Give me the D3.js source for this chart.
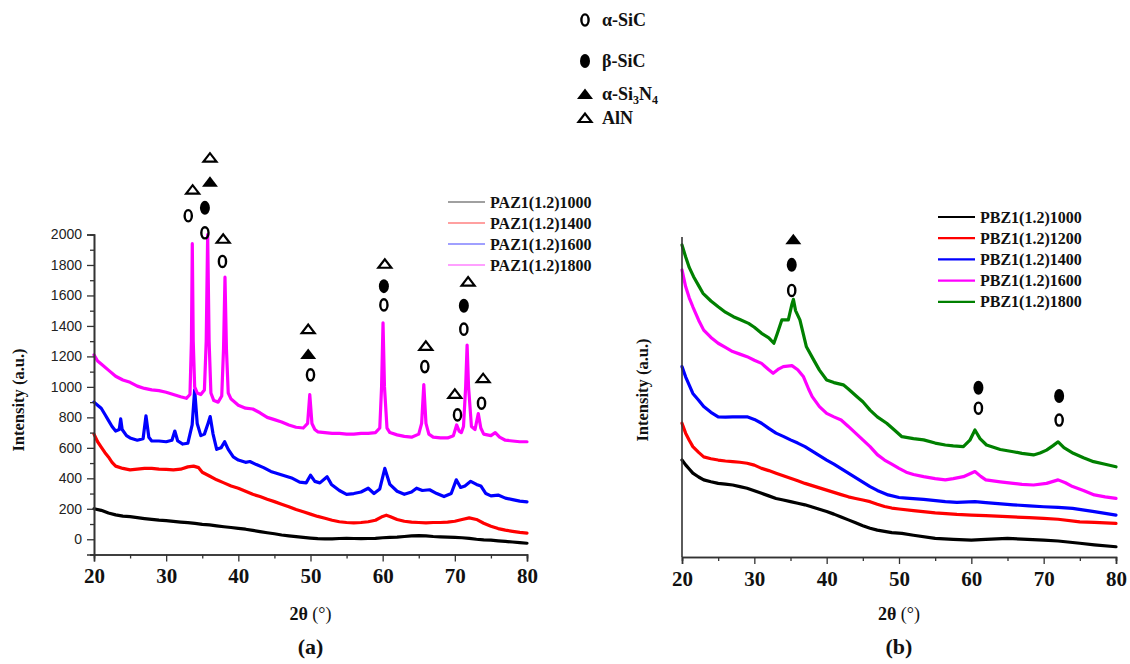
<!DOCTYPE html>
<html>
<head>
<meta charset="utf-8">
<script src="https://cdn.jsdelivr.net/npm/d3@7"></script>
<style>
  html, body { margin: 0; padding: 0; background: #fff; }
  svg { display: block; }
</style>
</head>
<body>
<svg id="chart" width="1130" height="664"></svg>
<script>
// ---------------- DATA ----------------
const thetaTicks = [20, 30, 40, 50, 60, 70, 80];
const thetaMinorTicks = [25, 35, 45, 55, 65, 75];
const intensityTicksA = [0, 200, 400, 600, 800, 1000, 1200, 1400, 1600, 1800, 2000];
const intensityMinorTicksA = [-100, 100, 300, 500, 700, 900, 1100, 1300, 1500, 1700, 1900];

const seriesNamesA = ["PAZ1(1.2)1000", "PAZ1(1.2)1400", "PAZ1(1.2)1600", "PAZ1(1.2)1800"];
const seriesNamesB = ["PBZ1(1.2)1000", "PBZ1(1.2)1200", "PBZ1(1.2)1400", "PBZ1(1.2)1600", "PBZ1(1.2)1800"];

const phaseNames = ["α-SiC", "β-SiC", "α-Si3N4", "AlN"];

// panel (a): [2θ, intensity]
const paz1000 = [[20,200],[21,190],[22,172],[23,160],[24,152],[25,148],[26,142],[27,136],[28,130],[29,125],[30,122],[31,118],[32,113],[33,109],[34,104],[35,98],[36,94],[37,88],[38,82],[39,77],[40,72],[41,66],[42,58],[43,50],[44,43],[45,36],[46,28],[47,22],[48,17],[49,13],[50,8],[51,4],[52,2],[53,3],[54,5],[55,6],[56,5],[57,4],[58,5],[59,6],[60,10],[61,12],[62,14],[63,18],[64,22],[65,24],[66,22],[67,18],[68,16],[69,14],[70,12],[71,10],[72,6],[73,0],[74,-4],[75,-6],[76,-10],[77,-14],[78,-18],[79,-22],[80,-26]];
const paz1400 = [[20,690],[20.5,640],[21,605],[21.5,570],[22,540],[22.5,505],[23,480],[24,465],[25,455],[26,460],[27,465],[28,465],[29,460],[30,458],[31,455],[32,460],[33,475],[33.8,480],[34.5,470],[35,440],[36,415],[37,390],[38,370],[39,350],[40,335],[41,315],[42,295],[43,280],[44,262],[45,247],[46,230],[47,214],[48,195],[49,180],[50,165],[51,150],[52,138],[53,125],[54,115],[55,110],[56,108],[57,110],[58,115],[59,125],[60,150],[60.5,158],[61,150],[62,130],[63,118],[64,112],[65,110],[66,108],[67,110],[68,110],[69,112],[70,118],[71,130],[72,140],[73,130],[74,105],[75,85],[76,70],[77,60],[78,52],[79,45],[80,40]];
const paz1600 = [[20,900],[20.5,880],[21,860],[21.5,820],[22,780],[22.5,740],[23,710],[23.5,720],[23.7,790],[23.9,720],[24.5,680],[25,665],[26,650],[26.8,660],[27.2,810],[27.6,670],[28,645],[29,645],[30,640],[30.8,650],[31.2,710],[31.6,645],[32.3,625],[33,630],[33.6,750],[33.95,980],[34.3,760],[34.8,680],[35.3,690],[35.8,760],[36.1,805],[36.5,690],[37,590],[37.6,600],[38.1,640],[38.6,590],[39.3,540],[40,520],[41,505],[41.6,510],[42.5,490],[43.5,470],[44.5,445],[45.5,430],[46.5,415],[47.5,400],[48.5,375],[49.4,370],[50,420],[50.6,380],[51.3,370],[52.3,410],[52.9,360],[54,320],[55,295],[56,300],[57,310],[58,335],[58.8,300],[59.6,330],[60.3,465],[61,360],[62,315],[63,295],[64,310],[64.7,335],[65.5,320],[66.5,325],[67.5,300],[68.5,280],[69.5,300],[70.2,390],[70.8,340],[71.4,350],[72.2,380],[73,360],[73.6,350],[74.3,300],[75,285],[76,290],[77,270],[78,260],[79,250],[80,245]];
const paz1800 = [[20,1210],[20.5,1170],[21,1150],[22,1110],[23,1070],[24,1045],[25,1030],[26,1005],[27,990],[28,980],[29,975],[30,965],[31,950],[32,935],[32.8,925],[33.3,950],[33.5,1300],[33.62,1940],[33.75,1300],[33.95,1000],[34.3,960],[34.8,950],[35.3,980],[35.55,1300],[35.75,2000],[35.95,1300],[36.2,960],[36.6,910],[37.2,900],[37.7,940],[37.95,1250],[38.15,1720],[38.35,1250],[38.6,960],[39,920],[40,880],[41,860],[42,855],[43,830],[44,800],[45,785],[46,770],[47,750],[48,735],[49,730],[49.6,760],[49.9,950],[50.2,760],[50.6,720],[51,705],[52,700],[53,695],[54,695],[55,690],[56,690],[57,695],[58,695],[59,700],[59.6,730],[59.85,1000],[60.05,1420],[60.25,1000],[60.6,730],[61,700],[62,685],[63,675],[64,670],[65,690],[65.4,760],[65.7,1015],[66,760],[66.4,690],[67,670],[68,665],[69,665],[69.8,680],[70.25,750],[70.6,710],[70.9,700],[71.2,740],[71.5,1000],[71.7,1275],[71.9,1000],[72.3,740],[72.8,720],[73.25,825],[73.6,730],[74,690],[75,680],[75.6,700],[76.2,670],[77,650],[78,645],[79,640],[80,640]];

// panel (b): [2θ, intensity in arbitrary units]
const pbz1000 = [[20,303],[20.5,288],[21,275],[21.5,262],[22.3,250],[23,241],[24,235],[25,230],[26,228],[27,225],[28,220],[29,215],[30,207],[31,199],[32,191],[33,183],[34,178],[35,173],[36,168],[37,163],[38,156],[39,149],[40,142],[41,134],[42,125],[43,116],[44,107],[45,98],[46,90],[47,84],[48,80],[49,76],[50.4,74],[52,68],[55,58],[57.5,55],[60,53],[62,55],[65,58],[67,56],[70,53],[72,50],[75,43],[77,38],[80,32]];
const pbz1200 = [[20,418],[20.5,387],[21,365],[21.5,345],[22.3,327],[23,313],[24,307],[25,303],[26,300],[27,298],[28,296],[29,293],[30,287],[31,277],[32,270],[33,262],[34,254],[35,246],[36,238],[37,230],[38,223],[39,216],[40,209],[41,202],[42,195],[43,188],[44,183],[45,178],[46,173],[47,165],[48,158],[49,153],[50,150],[52,145],[55,138],[58,133],[60,131],[62,129],[65,126],[68,123],[70,121],[72,118],[75,110],[77,108],[80,105]];
const pbz1400 = [[20,595],[20.5,563],[21,537],[21.5,511],[22.3,490],[23,470],[24,452],[25,438],[26,437],[27,438],[28,438],[29,438],[30,430],[31,418],[32,402],[33,387],[34,377],[35,366],[36,356],[37,345],[38,331],[39,317],[40,303],[41,290],[42,276],[43,262],[44,248],[45,234],[46,220],[47,208],[48.5,194],[50,186],[51,184],[53.4,180],[56.4,173],[58,171],[60.5,173],[62,170],[65.8,163],[68,160],[70,157],[72,155],[74,152],[77,142],[80,131]];
const pbz1600 = [[20,897],[20.5,845],[21,810],[21.5,782],[22.3,740],[23,709],[24,686],[25,668],[26,655],[27,642],[28,634],[29,626],[30,615],[31,605],[32,585],[32.6,574],[33.4,588],[34,595],[35.2,598],[36,585],[36.8,563],[37.5,525],[38,501],[39,470],[40,449],[41,438],[42,428],[43,408],[44,387],[45,366],[46,345],[47,320],[48,303],[49,290],[50,277],[51,265],[52,258],[53.4,251],[55,245],[56.4,241],[57.5,245],[58.9,251],[60.5,267],[61.3,252],[62,241],[64,235],[65.8,230],[67,227],[68.6,225],[70.4,230],[72,241],[73,232],[74,220],[75.5,208],[77,194],[78.5,188],[80,183]];
const pbz1800 = [[20,975],[20.5,938],[21,905],[21.6,876],[22.3,848],[22.9,824],[24,800],[25,782],[26,765],[27.1,751],[28,742],[29.2,730],[30,718],[31,699],[32,685],[32.7,668],[33.2,700],[33.8,741],[34.7,741],[35.2,790],[35.4,805],[35.7,770],[36.3,741],[37.2,657],[38.2,616],[39,584],[40,553],[41,545],[42.3,538],[43,525],[44.2,501],[45,485],[46,459],[47,438],[48.3,418],[49.4,396],[50.4,376],[52,370],[53.4,366],[55,356],[56.4,350],[57.5,347],[58.9,345],[59.8,365],[60.5,397],[61.2,370],[62.1,350],[64,336],[65.8,329],[67,324],[68.6,319],[69.5,325],[70.4,334],[71.3,348],[72,360],[72.8,342],[74.1,324],[75.5,310],[76.9,298],[78.5,290],[80,282]];

// peak phase markers: [phase, 2θ, intensity]
const peakMarksA = [
  ["AlN",33.67,2294],["aSiC",33.06,2123],
  ["AlN",36.07,2504],["aSi3N4",36.07,2346],["bSiC",35.37,2175],["aSiC",35.37,2011],
  ["AlN",37.9,1972],["aSiC",37.8,1823],
  ["AlN",49.68,1379],["aSi3N4",49.68,1215],["aSiC",50.0,1079],
  ["AlN",60.3,1808],["bSiC",60.17,1661],["aSiC",60.17,1538],
  ["AlN",65.98,1269],["aSiC",65.84,1133],
  ["AlN",70.0,954],["aSiC",70.37,816],
  ["AlN",71.84,1691],["bSiC",71.25,1532],["aSiC",71.25,1379],
  ["AlN",73.92,1057],["aSiC",73.7,893]
];
const peakMarksB = [
  ["aSi3N4",35.39,993],["bSiC",35.17,913],["aSiC",35.17,833],
  ["bSiC",60.98,529],["aSiC",60.98,465],
  ["bSiC",72.14,503],["aSiC",72.14,428]
];

// ---------------- DRAWING ----------------
const svg = d3.select("#chart");
const SERIF = "'Liberation Serif','Times New Roman',serif";
const SANS = "'Liberation Sans',Arial,sans-serif";
const AXIS = "#333";

const colorsA = ["#000000", "#ff0000", "#0000ff", "#ff00ff"];
const legendColorsA = ["#808080", "#ff8080", "#8080ff", "#ff80ff"];
const colorsB = ["#000000", "#ff0000", "#0000ff", "#ff00ff", "#008000"];

function drawMarker(g, type, cx, cy) {
  if (type === "aSiC") {
    g.append("ellipse").attr("cx", cx).attr("cy", cy).attr("rx", 3.6).attr("ry", 5.6)
      .attr("fill", "none").attr("stroke", "#000").attr("stroke-width", 2.4);
  } else if (type === "bSiC") {
    g.append("ellipse").attr("cx", cx).attr("cy", cy).attr("rx", 5).attr("ry", 7)
      .attr("fill", "#000");
  } else if (type === "aSi3N4") {
    g.append("path").attr("d", `M${cx-8},${cy+5}L${cx+8},${cy+5}L${cx},${cy-5.5}Z`)
      .attr("fill", "#000");
  } else if (type === "AlN") {
    g.append("path").attr("d", `M${cx-6.5},${cy+4}L${cx+6.5},${cy+4}L${cx},${cy-4.5}Z`)
      .attr("fill", "none").attr("stroke", "#000").attr("stroke-width", 2.2).attr("stroke-linejoin", "miter");
  }
}

function styleAxis(g) {
  g.select(".domain").attr("stroke", AXIS).attr("stroke-width", 1.6);
  g.selectAll(".tick line").attr("stroke", AXIS).attr("stroke-width", 1.3);
}

function panel(opts) {
  const g = svg.append("g");
  const x = d3.scaleLinear().domain([20, 80]).range(opts.xRange);
  const y = d3.scaleLinear().domain(opts.yDomain).range(opts.yRange);

  // curves
  const line = d3.line().x(d => x(d[0])).y(d => y(d[1]));
  opts.series.forEach((s, i) => {
    g.append("path").datum(s).attr("d", line)
      .attr("fill", "none").attr("stroke", opts.colors[i])
      .attr("stroke-width", 3.2).attr("stroke-linejoin", "round").attr("stroke-linecap", "round");
  });

  // x axis
  const xAxis = g.append("g").attr("transform", `translate(0,${opts.yRange[0]})`)
    .call(d3.axisBottom(x).tickValues(thetaTicks).tickSize(7).tickPadding(7).tickFormat(d3.format("d")));
  styleAxis(xAxis);
  xAxis.selectAll("text").attr("font-family", SERIF).attr("font-weight", "bold")
    .attr("font-size", 21).attr("fill", "#111");
  const xMinor = g.append("g").attr("transform", `translate(0,${opts.yRange[0]})`)
    .call(d3.axisBottom(x).tickValues(thetaMinorTicks).tickSize(4).tickFormat(""));
  styleAxis(xMinor);

  // y axis
  if (opts.yTicks) {
    const yAxis = g.append("g").attr("transform", `translate(${opts.xRange[0]},0)`)
      .call(d3.axisLeft(y).tickValues(opts.yTicks).tickSize(7).tickPadding(5).tickFormat(d3.format("d")));
    styleAxis(yAxis);
    yAxis.selectAll("text").attr("font-family", SANS).attr("font-size", 14).attr("fill", "#222");
    const yMinor = g.append("g").attr("transform", `translate(${opts.xRange[0]},0)`)
      .call(d3.axisLeft(y).tickValues(opts.yMinorTicks).tickSize(4).tickFormat(""));
    styleAxis(yMinor);
  } else {
    g.append("line").attr("x1", opts.xRange[0]).attr("x2", opts.xRange[0])
      .attr("y1", opts.yRange[0]).attr("y2", opts.yRange[1])
      .attr("stroke", AXIS).attr("stroke-width", 1.6);
  }

  // markers
  opts.marks.forEach(m => drawMarker(g, m[0], x(m[1]), y(m[2])));

  // titles
  const midX = (opts.xRange[0] + opts.xRange[1]) / 2;
  const xt = g.append("text").attr("x", midX).attr("y", 620).attr("text-anchor", "middle")
    .attr("font-family", SERIF).attr("font-size", 18).attr("fill", "#111");
  xt.append("tspan").attr("font-weight", "bold").text("2θ");
  xt.append("tspan").text(" (°)");
  g.append("text").attr("x", midX).attr("y", 654).attr("text-anchor", "middle")
    .attr("font-family", SERIF).attr("font-size", 22).attr("font-weight", "bold").attr("fill", "#111")
    .text(opts.label);
  g.append("text").attr("transform", `translate(${opts.yTitleX},${opts.yTitleY}) rotate(-90)`)
    .attr("text-anchor", "middle").attr("font-family", SERIF).attr("font-size", 16.5)
    .attr("font-weight", "bold").attr("fill", "#111").text("Intensity (a.u.)");

  // legend
  const lg = g.append("g");
  opts.names.forEach((n, i) => {
    const ly = opts.legendY + i * opts.legendStep;
    lg.append("line").attr("x1", opts.legendX).attr("x2", opts.legendX + 37)
      .attr("y1", ly).attr("y2", ly).attr("stroke", opts.legendColors[i]).attr("stroke-width", opts.legendWidth);
    lg.append("text").attr("x", opts.legendX + 42).attr("y", ly + 5.5)
      .attr("font-family", SERIF).attr("font-weight", "bold").attr("font-size", 16).attr("fill", "#111")
      .text(n);
  });
}

panel({
  xRange: [94, 527], yDomain: [-100, 2000], yRange: [554.5, 234.5],
  yTicks: intensityTicksA, yMinorTicks: intensityMinorTicksA,
  series: [paz1000, paz1400, paz1600, paz1800], colors: colorsA,
  names: seriesNamesA, legendColors: legendColorsA, legendWidth: 1.5,
  legendX: 448, legendY: 202, legendStep: 21,
  marks: peakMarksA, label: "(a)", yTitleX: 24, yTitleY: 400
});

panel({
  xRange: [682, 1116], yDomain: [0, 1000], yRange: [557, 237],
  yTicks: null,
  series: [pbz1000, pbz1200, pbz1400, pbz1600, pbz1800], colors: colorsB,
  names: seriesNamesB, legendColors: colorsB, legendWidth: 2.2,
  legendX: 938, legendY: 217, legendStep: 21.2,
  marks: peakMarksB, label: "(b)", yTitleX: 648, yTitleY: 390
});

// phase legend (top)
const phaseKeys = ["aSiC", "bSiC", "aSi3N4", "AlN"];
const phaseRowY = [20, 61, 94, 118];
const pl = svg.append("g");
phaseKeys.forEach((k, i) => {
  drawMarker(pl, k, 585, phaseRowY[i]);
  const t = pl.append("text").attr("x", 602).attr("y", phaseRowY[i] + 6)
    .attr("font-family", SERIF).attr("font-weight", "bold").attr("font-size", 18).attr("fill", "#111");
  if (k === "aSi3N4") {
    t.append("tspan").text("α-Si");
    t.append("tspan").attr("font-size", 12).attr("dy", 4).text("3");
    t.append("tspan").attr("dy", -4).text("N");
    t.append("tspan").attr("font-size", 12).attr("dy", 4).text("4");
  } else {
    t.text(phaseNames[i]);
  }
});
</script>
</body>
</html>
